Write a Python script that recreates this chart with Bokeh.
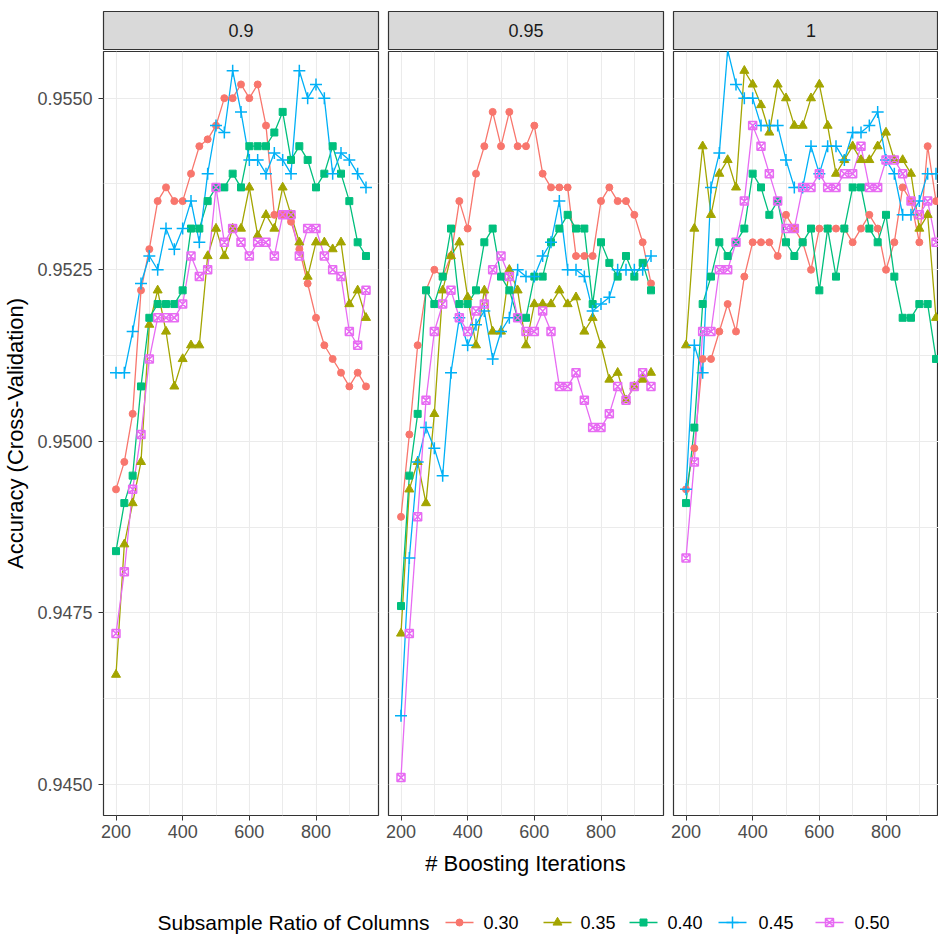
from bokeh.plotting import figure
from bokeh.layouts import row, column
from bokeh.models import Range1d, FixedTicker, PrintfTickFormatter
from bokeh.core.properties import value
from bokeh.embed import file_html
from bokeh.resources import INLINE

# ---------------- data ----------------
iterations = [200, 225, 250, 275, 300, 325, 350, 375, 400, 425, 450, 475, 500, 525, 550, 575,
              600, 625, 650, 675, 700, 725, 750, 775, 800, 825, 850, 875, 900, 925, 950]
facet_labels = ["0.9", "0.95", "1"]
ratio_labels = ["0.30", "0.35", "0.40", "0.45", "0.50"]
x_ticks = [200, 400, 600, 800]
x_minor = [300, 500, 700, 900]
y_ticks = [0.9450, 0.9475, 0.9500, 0.9525, 0.9550]
y_minor = [0.94625, 0.94875, 0.95125, 0.95375]

# facet 0.9
f09_030 = [0.9493, 0.9497, 0.9504, 0.9522, 0.9528, 0.9535, 0.9537, 0.9535, 0.9535, 0.9539, 0.9543, 0.9544, 0.9546, 0.9550, 0.9550, 0.9552,
           0.9550, 0.9552, 0.9546, 0.9533, 0.9533, 0.9532, 0.9528, 0.9523, 0.9518, 0.9514, 0.9512, 0.9510, 0.9508, 0.9510, 0.9508]
f09_035 = [0.9466, 0.9485, 0.9491, 0.9497, 0.9517, 0.9522, 0.9516, 0.9508, 0.9512, 0.9514, 0.9514, 0.9527, 0.9531, 0.9527, 0.9531, 0.9531,
           0.9537, 0.9530, 0.9533, 0.9531, 0.9537, 0.9533, 0.9529, 0.9524, 0.9529, 0.9529, 0.9528, 0.9529, 0.9520, 0.9522, 0.9518]
f09_040 = [0.9484, 0.9491, 0.9495, 0.9508, 0.9518, 0.9520, 0.9520, 0.9520, 0.9522, 0.9531, 0.9531, 0.9535, 0.9537, 0.9537, 0.9539, 0.9537,
           0.9543, 0.9543, 0.9543, 0.9545, 0.9548, 0.9541, 0.9543, 0.9541, 0.9537, 0.9539, 0.9543, 0.9539, 0.9535, 0.9529, 0.9527]
f09_045 = [0.9510, 0.9510, 0.9516, 0.9523, 0.9527, 0.9525, 0.9531, 0.9528, 0.9531, 0.9535, 0.9529, 0.9539, 0.9546, 0.9545, 0.9554, 0.9548,
           0.9541, 0.9541, 0.9539, 0.9542, 0.9541, 0.9539, 0.9554, 0.9550, 0.9552, 0.9550, 0.9539, 0.9542, 0.9541, 0.9539, 0.9537]
f09_050 = [0.9472, 0.9481, 0.9493, 0.9501, 0.9512, 0.9518, 0.9518, 0.9518, 0.9520, 0.9527, 0.9524, 0.9525, 0.9537, 0.9529, 0.9531, 0.9529,
           0.9527, 0.9529, 0.9529, 0.9527, 0.9533, 0.9533, 0.9527, 0.9531, 0.9531, 0.9527, 0.9525, 0.9524, 0.9516, 0.9514, 0.9522]

# facet 0.95
f095_030 = [0.9489, 0.9501, 0.9514, 0.9522, 0.9525, 0.9524, 0.9527, 0.9535, 0.9531, 0.9539, 0.9543, 0.9548, 0.9543, 0.9548, 0.9543, 0.9543,
            0.9546, 0.9539, 0.9537, 0.9537, 0.9537, 0.9527, 0.9527, 0.9527, 0.9535, 0.9537, 0.9535, 0.9535, 0.9533, 0.9529, 0.9523]
f095_035 = [0.9472, 0.9493, 0.9497, 0.9491, 0.9504, 0.9522, 0.9527, 0.9529, 0.9521, 0.9514, 0.9522, 0.9516, 0.9516, 0.9525, 0.9522, 0.9514,
            0.9520, 0.9520, 0.9520, 0.9522, 0.9520, 0.9521, 0.9516, 0.9518, 0.9514, 0.9509, 0.9510, 0.9506, 0.9508, 0.9509, 0.9510]
f095_040 = [0.9476, 0.9495, 0.9504, 0.9522, 0.9520, 0.9524, 0.9531, 0.9520, 0.9520, 0.9522, 0.9529, 0.9531, 0.9524, 0.9522, 0.9518, 0.9518,
            0.9524, 0.9524, 0.9529, 0.9531, 0.9533, 0.9531, 0.9531, 0.9520, 0.9529, 0.9526, 0.9524, 0.9527, 0.9524, 0.9526, 0.9522]
f095_045 = [0.9460, 0.9483, 0.9497, 0.9502, 0.9499, 0.9495, 0.9510, 0.9518, 0.9514, 0.9517, 0.9519, 0.9512, 0.9516, 0.9518, 0.9525, 0.9524,
            0.9524, 0.9527, 0.9529, 0.9535, 0.9525, 0.9525, 0.9524, 0.9519, 0.9520, 0.9521, 0.9525, 0.9525, 0.9525, 0.9525, 0.9527]
f095_050 = [0.9451, 0.9472, 0.9489, 0.9506, 0.9516, 0.9520, 0.9522, 0.9518, 0.9516, 0.9519, 0.9520, 0.9525, 0.9527, 0.9524, 0.9518, 0.9516,
            0.9516, 0.9519, 0.9516, 0.9508, 0.9508, 0.9510, 0.9506, 0.9502, 0.9502, 0.9504, 0.9508, 0.9506, 0.9508, 0.9510, 0.9508]

# facet 1
f1_030 = [0.9493, 0.9499, 0.9512, 0.9512, 0.9516, 0.9520, 0.9516, 0.9524, 0.9529, 0.9529, 0.9529, 0.9527, 0.9533, 0.9531, 0.9529, 0.9525,
          0.9531, 0.9531, 0.9531, 0.9531, 0.9529, 0.9531, 0.9533, 0.9531, 0.9525, 0.9529, 0.9537, 0.9535, 0.9529, 0.9543, 0.9535]
f1_035 = [0.9514, 0.9531, 0.9543, 0.9533, 0.9539, 0.9541, 0.9537, 0.9554, 0.9552, 0.9549, 0.9545, 0.9552, 0.9550, 0.9546, 0.9546, 0.9550,
          0.9552, 0.9546, 0.9539, 0.9541, 0.9543, 0.9541, 0.9541, 0.9543, 0.9545, 0.9541, 0.9541, 0.9539, 0.9531, 0.9533, 0.9518]
f1_040 = [0.9491, 0.9502, 0.9520, 0.9524, 0.9529, 0.9527, 0.9529, 0.9531, 0.9539, 0.9537, 0.9533, 0.9535, 0.9529, 0.9527, 0.9529, 0.9531,
          0.9522, 0.9531, 0.9524, 0.9531, 0.9537, 0.9537, 0.9531, 0.9529, 0.9533, 0.9524, 0.9518, 0.9518, 0.9520, 0.9520, 0.9512]
f1_045 = [0.9493, 0.9514, 0.9510, 0.9537, 0.9542, 0.9557, 0.9552, 0.9550, 0.9550, 0.9546, 0.9546, 0.9546, 0.9541, 0.9537, 0.9537, 0.9543,
          0.9539, 0.9543, 0.9543, 0.9541, 0.9545, 0.9545, 0.9546, 0.9548, 0.9541, 0.9539, 0.9533, 0.9533, 0.9535, 0.9539, 0.9539]
f1_050 = [0.9483, 0.9497, 0.9516, 0.9516, 0.9525, 0.9525, 0.9529, 0.9535, 0.9546, 0.9543, 0.9539, 0.9535, 0.9531, 0.9531, 0.9537, 0.9537,
          0.9539, 0.9537, 0.9537, 0.9539, 0.9539, 0.9543, 0.9537, 0.9537, 0.9541, 0.9541, 0.9539, 0.9535, 0.9533, 0.9535, 0.9529]

facet_series = [
    [f09_030, f09_035, f09_040, f09_045, f09_050],
    [f095_030, f095_035, f095_040, f095_045, f095_050],
    [f1_030, f1_035, f1_040, f1_045, f1_050],
]

# ---------------- style ----------------
colors = ["#F8766D", "#A3A500", "#00BF7D", "#00B0F6", "#E76BF3"]
markers = ["circle", "triangle", "square", "cross", "square_x"]
msizes = [7, 9, 7, 12, 8]
FONT = value("Liberation Sans")
X0, X1 = 162.5, 987.5
Y0, Y1 = 0.944548, 0.955680
FRAME_H = 764

# (left border, frame width, right border, x end) for each facet
layout_specs = [(103, 275, 5, X1), (5, 275, 5, X1), (5, 265, 0, X0 + 265 * 3)]


def style_axis(ax):
    ax.axis_line_color = None
    ax.major_tick_line_color = "#333333"
    ax.major_tick_in = 0
    ax.major_tick_out = 5
    ax.minor_tick_line_color = None
    ax.major_label_text_font = "Liberation Sans"
    ax.major_label_text_font_size = "18px"
    ax.major_label_text_color = "#4D4D4D"


strips, panels = [], []
for k, (lb, fw, rb, xend) in enumerate(layout_specs):
    xr = Range1d(X0, xend)
    # strip
    s = figure(frame_width=fw, frame_height=38, x_range=xr, y_range=Range1d(0, 1),
               min_border_left=lb, min_border_right=rb, min_border_top=11, min_border_bottom=1,
               x_axis_location=None, y_axis_location=None,
               toolbar_location=None, output_backend="svg")
    s.grid.visible = False
    s.background_fill_color = "#D9D9D9"
    s.border_fill_color = "white"
    s.outline_line_color = "#333333"
    s.outline_line_width = 1.2
    s.text(x=[(X0 + X1) / 2], y=[0.5], text=[facet_labels[k]], text_font=FONT,
           text_font_size="18px", text_color="#1A1A1A", text_align="center", text_baseline="middle")
    strips.append(s)

    # panel
    p = figure(frame_width=fw, frame_height=FRAME_H, x_range=xr, y_range=Range1d(Y0, Y1),
               min_border_left=lb, min_border_right=rb, min_border_top=1, min_border_bottom=30,
               y_axis_location="left" if k == 0 else None,
               toolbar_location=None, output_backend="svg")
    p.background_fill_color = "white"
    p.border_fill_color = "white"
    p.outline_line_color = "#333333"
    p.outline_line_width = 1.2
    xt = FixedTicker(ticks=x_ticks, minor_ticks=x_minor)
    yt = FixedTicker(ticks=y_ticks, minor_ticks=y_minor)
    p.xaxis.ticker = xt
    p.xgrid.ticker = xt
    p.ygrid.ticker = yt
    for g in (p.xgrid, p.ygrid):
        g.grid_line_color = "#EBEBEB"
        g.grid_line_width = 1.1
        g.minor_grid_line_color = "#EBEBEB"
        g.minor_grid_line_width = 1.0
    style_axis(p.xaxis)
    p.xaxis.major_label_standoff = 4
    if k == 0:
        p.yaxis.ticker = yt
        p.yaxis.formatter = PrintfTickFormatter(format="%.4f")
        style_axis(p.yaxis)
        p.yaxis.major_label_standoff = 6
        p.yaxis.axis_label = "Accuracy (Cross-Validation)"
        p.yaxis.axis_label_text_font = "Liberation Sans"
        p.yaxis.axis_label_text_font_size = "22px"
        p.yaxis.axis_label_text_font_style = "normal"
        p.yaxis.axis_label_text_color = "black"
        p.yaxis.axis_label_standoff = 6

    series = facet_series[k]
    for i, ys in enumerate(series):
        p.line(iterations, ys, line_color=colors[i], line_width=1.3)
    for i, ys in enumerate(series):
        if markers[i] in ("cross", "square_x"):
            p.scatter(iterations, ys, marker=markers[i], size=msizes[i], line_color=colors[i],
                      fill_color=None, line_width=1.5)
        else:
            p.scatter(iterations, ys, marker=markers[i], size=msizes[i], line_color=colors[i],
                      fill_color=colors[i], line_width=1)
    panels.append(p)

# bottom: x-axis title and legend (pixel-space decoration figure)
b = figure(frame_width=938, frame_height=90, x_range=Range1d(0, 938), y_range=Range1d(935, 845),
           min_border=0, x_axis_location=None, y_axis_location=None,
           toolbar_location=None, output_backend="svg")
b.grid.visible = False
b.outline_line_color = None
b.background_fill_color = "white"
b.border_fill_color = "white"
b.text(x=[525], y=[863], text=["# Boosting Iterations"], text_font=FONT, text_font_size="22px",
       text_color="black", text_align="center", text_baseline="middle")
LEG_Y = 922
b.text(x=[157], y=[LEG_Y], text=["Subsample Ratio of Columns"], text_font=FONT, text_font_size="21px",
       text_color="black", text_align="left", text_baseline="middle")
key_centers = [459, 557, 643, 732, 829]
label_starts = [483, 580, 667, 758, 854]
for i in range(5):
    kc = key_centers[i]
    b.line([kc - 14, kc + 14], [LEG_Y, LEG_Y], line_color=colors[i], line_width=1.3)
    if markers[i] in ("cross", "square_x"):
        b.scatter([kc], [LEG_Y], marker=markers[i], size=msizes[i], line_color=colors[i],
                  fill_color=None, line_width=1.5)
    else:
        b.scatter([kc], [LEG_Y], marker=markers[i], size=msizes[i], line_color=colors[i],
                  fill_color=colors[i])
    b.text(x=[label_starts[i]], y=[LEG_Y], text=[ratio_labels[i]], text_font=FONT, text_font_size="18px",
           text_color="black", text_align="left", text_baseline="middle")

layout = column(row(*strips), row(*panels), b)
open("out.html", "w").write(file_html(layout, INLINE))
